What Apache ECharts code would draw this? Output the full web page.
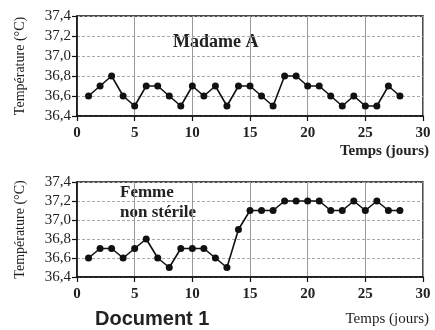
<!DOCTYPE html>
<html>
<head>
<meta charset="utf-8">
<script src="https://cdn.jsdelivr.net/npm/echarts@6/dist/echarts.min.js"></script>
<style>
  html, body { margin: 0; padding: 0; background: #fff; }
  #chart { width: 435px; height: 330px; }
</style>
</head>
<body>
<div id="chart"></div>
<script>
  // jours 1..28
  var days = [1, 2, 3, 4, 5, 6, 7, 8, 9, 10, 11, 12, 13, 14, 15, 16, 17, 18, 19, 20, 21, 22, 23, 24, 25, 26, 27, 28]
  var madameA = [36.6, 36.7, 36.8, 36.6, 36.5, 36.7, 36.7, 36.6, 36.5, 36.7, 36.6, 36.7, 36.5, 36.7,
                 36.7, 36.6, 36.5, 36.8, 36.8, 36.7, 36.7, 36.6, 36.5, 36.6, 36.5, 36.5, 36.7, 36.6]
  var femmeNonSterile = [36.6, 36.7, 36.7, 36.6, 36.7, 36.8, 36.6, 36.5, 36.7, 36.7, 36.7, 36.6, 36.5, 36.9,
                         37.1, 37.1, 37.1, 37.2, 37.2, 37.2, 37.2, 37.1, 37.1, 37.2, 37.1, 37.2, 37.1, 37.1]
  var xTicks = [0, 5, 10, 15, 20, 25, 30]
  var yTicks = [36.4, 36.6, 36.8, 37.0, 37.2, 37.4]

  var serif = '"Liberation Serif", "DejaVu Serif", serif'

  function pairs(vals) {
    return vals.map(function (v, i) { return [days[i], v] })
  }

  function xAxis(idx) {
    return {
      gridIndex: idx,
      type: 'value',
      min: xTicks[0],
      max: xTicks[xTicks.length - 1],
      interval: 5,
      axisLine: { show: true, lineStyle: { color: '#111', width: 1.5 } },
      axisTick: { show: true, length: 5, lineStyle: { color: '#111', width: 1.2 } },
      axisLabel: { color: '#222', fontFamily: serif, fontSize: 15, fontWeight: 'bold', margin: 10 },
      splitLine: { show: true, lineStyle: { color: '#999', width: 1 } }
    }
  }

  function yAxis(idx) {
    return {
      gridIndex: idx,
      type: 'value',
      min: yTicks[0],
      max: yTicks[yTicks.length - 1],
      interval: 0.2,
      name: 'Température (°C)',
      nameLocation: 'middle',
      nameGap: 50,
      nameTextStyle: { color: '#222', fontFamily: serif, fontSize: 14 },
      axisLine: { show: true, lineStyle: { color: '#111', width: 1.5 } },
      axisTick: { show: true, length: 5, lineStyle: { color: '#111', width: 1.2 } },
      axisLabel: {
        color: '#222', fontFamily: serif, fontSize: 15, margin: 6,
        formatter: function (v) { return v.toFixed(1).replace('.', ',') }
      },
      splitLine: { show: true, lineStyle: { color: '#aaa', width: 1, type: [3, 2] } }
    }
  }

  function series(idx, vals) {
    return {
      type: 'line',
      xAxisIndex: idx,
      yAxisIndex: idx,
      data: pairs(vals),
      symbol: 'circle',
      symbolSize: 7,
      itemStyle: { color: '#111' },
      lineStyle: { color: '#111', width: 1.6 },
      animation: false
    }
  }

  var chart = echarts.init(document.getElementById('chart'))
  chart.setOption({
    backgroundColor: '#fff',
    animation: false,
    grid: [
      { left: 77, top: 16, width: 346, height: 100, show: true, borderColor: '#111', borderWidth: 1.5 },
      { left: 77, top: 182, width: 346, height: 95, show: true, borderColor: '#111', borderWidth: 1.5 }
    ],
    xAxis: [xAxis(0), xAxis(1)],
    yAxis: [yAxis(0), yAxis(1)],
    series: [series(0, madameA), series(1, femmeNonSterile)],
    graphic: [
      { type: 'text', left: 173, top: 33, style: { text: 'Madame A', font: 'bold 18px ' + serif, fill: '#222' } },
      { type: 'text', left: 120, top: 183, style: { text: 'Femme\nnon stérile', font: 'bold 17px ' + serif, fill: '#222', lineHeight: 20 } },
      { type: 'text', right: 6, top: 144, style: { text: 'Temps (jours)', font: 'bold 15px ' + serif, fill: '#222' } },
      { type: 'text', right: 6, top: 312, style: { text: 'Temps (jours)', font: '15px ' + serif, fill: '#222' } },
      { type: 'text', left: 95, top: 309, style: { text: 'Document 1', font: 'bold 20px "Liberation Sans", Arial, sans-serif', fill: '#222' } }
    ]
  })
</script>
</body>
</html>
